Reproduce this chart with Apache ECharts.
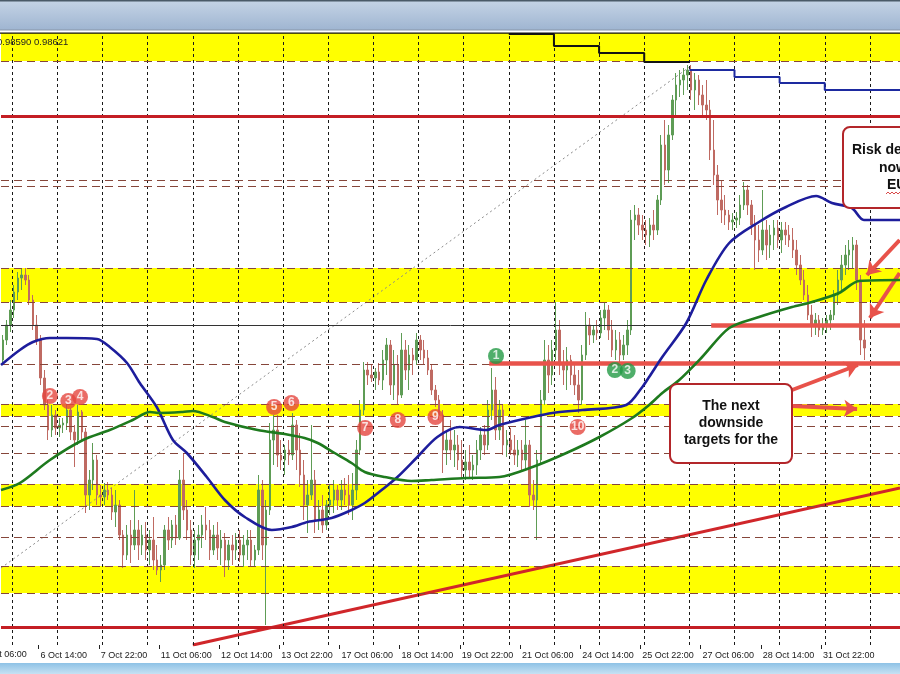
<!DOCTYPE html>
<html><head><meta charset="utf-8">
<script src="https://cdn.jsdelivr.net/npm/echarts/dist/echarts.min.js"></script>
<style>html,body{margin:0;padding:0;background:#fff;}#c{width:900px;height:674px;}</style>
</head><body><div id="c"></div>
<script>
// ---- 2-hour OHLC bars (EURUSD) ----
const barOpen=[
0.9850,0.9870,0.9885,0.9900,0.9918,0.9932,0.9935,0.9930,0.9910,0.9885,
0.9870,0.9832,0.9805,0.9780,0.9795,0.9782,0.9785,0.9787,0.9800,0.9778,
0.9770,0.9798,0.9778,0.9715,0.9730,0.9750,0.9715,0.9713,0.9720,0.9715,
0.9698,0.9705,0.9675,0.9655,0.9675,0.9665,0.9680,0.9665,0.9675,0.9660,
0.9670,0.9650,0.9640,0.9645,0.9680,0.9670,0.9685,0.9672,0.9730,0.9700,
0.9680,0.9655,0.9670,0.9675,0.9685,0.9680,0.9660,0.9675,0.9662,0.9670,
0.9650,0.9665,0.9660,0.9670,0.9655,0.9665,0.9670,0.9650,0.9660,0.9720,
0.9665,0.9700,0.9770,0.9780,0.9755,0.9750,0.9760,0.9755,0.9785,0.9760,
0.9735,0.9705,0.9715,0.9730,0.9690,0.9700,0.9685,0.9705,0.9710,0.9720,
0.9710,0.9720,0.9715,0.9705,0.9720,0.9760,0.9800,0.9840,0.9835,0.9832,
0.9838,0.9830,0.9850,0.9865,0.9825,0.9845,0.9815,0.9860,0.9840,0.9855,
0.9850,0.9870,0.9860,0.9852,0.9840,0.9820,0.9810,0.9795,0.9760,0.9770,
0.9760,0.9765,0.9750,0.9740,0.9748,0.9740,0.9745,0.9760,0.9775,0.9765,
0.9800,0.9820,0.9780,0.9800,0.9765,0.9770,0.9760,0.9755,0.9760,0.9750,
0.9765,0.9715,0.9710,0.9750,0.9810,0.9850,0.9835,0.9860,0.9880,0.9845,
0.9840,0.9850,0.9835,0.9825,0.9810,0.9855,0.9885,0.9875,0.9880,0.9877,
0.9892,0.9900,0.9880,0.9860,0.9870,0.9855,0.9865,0.9880,0.9990,0.9995,
0.9985,0.9980,0.9975,0.9985,0.9980,1.0010,1.0065,1.0040,1.0075,1.0110,
1.0125,1.0130,1.0135,1.0140,1.0120,1.0130,1.0115,1.0105,1.0100,1.0060,
1.0035,1.0010,1.0000,0.9995,0.9988,0.9990,0.9992,1.0005,1.0020,1.0005,
0.9985,0.9970,0.9960,0.9980,0.9965,0.9975,0.9982,0.9970,0.9980,0.9975,
0.9970,0.9960,0.9945,0.9930,0.9915,0.9895,0.9885,0.9890,0.9880,0.9885,
0.9890,0.9895,0.9915,0.9930,0.9945,0.9955,0.9960,0.9965,0.9930,0.9870];
const barHigh=[
0.9875,0.9890,0.9910,0.9925,0.9938,0.9942,0.9942,0.9935,0.9915,0.9895,
0.9875,0.9840,0.9810,0.9805,0.9800,0.9792,0.9792,0.9805,0.9802,0.9785,
0.9805,0.9800,0.9782,0.9740,0.9767,0.9755,0.9725,0.9727,0.9728,0.9722,
0.9720,0.9710,0.9680,0.9685,0.9690,0.9720,0.9690,0.9685,0.9688,0.9680,
0.9693,0.9665,0.9655,0.9685,0.9693,0.9690,0.9695,0.9740,0.9757,0.9710,
0.9690,0.9680,0.9685,0.9695,0.9703,0.9690,0.9685,0.9688,0.9680,0.9677,
0.9670,0.9675,0.9677,0.9680,0.9675,0.9680,0.9680,0.9665,0.9735,0.9730,
0.9710,0.9787,0.9795,0.9795,0.9770,0.9765,0.9770,0.9797,0.9790,0.9777,
0.9750,0.9730,0.9785,0.9740,0.9710,0.9715,0.9710,0.9725,0.9730,0.9725,
0.9730,0.9732,0.9735,0.9737,0.9770,0.9810,0.9848,0.9848,0.9845,0.9842,
0.9847,0.9860,0.9872,0.9870,0.9860,0.9855,0.9877,0.9870,0.9865,0.9862,
0.9877,0.9875,0.9870,0.9860,0.9845,0.9825,0.9815,0.9800,0.9780,0.9790,
0.9780,0.9775,0.9770,0.9760,0.9765,0.9755,0.9770,0.9783,0.9785,0.9810,
0.9842,0.9833,0.9810,0.9805,0.9780,0.9782,0.9775,0.9770,0.9770,0.9790,
0.9770,0.9730,0.9760,0.9820,0.9870,0.9865,0.9870,0.9908,0.9890,0.9860,
0.9863,0.9855,0.9845,0.9840,0.9865,0.9898,0.9892,0.9885,0.9890,0.9900,
0.9907,0.9905,0.9890,0.9880,0.9878,0.9875,0.9890,1.0000,1.0005,1.0002,
0.9995,0.9990,0.9992,1.0000,1.0015,1.0075,1.0090,1.0085,1.0115,1.0137,
1.0140,1.0142,1.0145,1.0145,1.0137,1.0135,1.0125,1.0130,1.0110,1.0090,
1.0045,1.0030,1.0015,1.0000,0.9997,0.9998,1.0015,1.0028,1.0025,1.0010,
0.9995,0.9985,1.0020,0.9990,0.9985,0.9990,0.9990,0.9988,0.9988,0.9985,
0.9982,0.9970,0.9955,0.9940,0.9925,0.9905,0.9897,0.9895,0.9892,0.9895,
0.9900,0.9920,0.9940,0.9955,0.9965,0.9970,0.9973,0.9970,0.9935,0.9890];
const barLow=[
0.9845,0.9865,0.9878,0.9892,0.9910,0.9920,0.9925,0.9905,0.9880,0.9865,
0.9825,0.9800,0.9770,0.9773,0.9775,0.9773,0.9777,0.9780,0.9770,0.9743,
0.9765,0.9770,0.9697,0.9700,0.9720,0.9705,0.9703,0.9705,0.9710,0.9690,
0.9683,0.9670,0.9642,0.9650,0.9647,0.9660,0.9650,0.9655,0.9650,0.9645,
0.9640,0.9635,0.9628,0.9640,0.9660,0.9662,0.9665,0.9670,0.9690,0.9670,
0.9645,0.9642,0.9650,0.9662,0.9670,0.9650,0.9655,0.9650,0.9645,0.9633,
0.9640,0.9645,0.9650,0.9648,0.9643,0.9650,0.9643,0.9643,0.9655,0.9650,
0.9585,0.9695,0.9745,0.9743,0.9740,0.9735,0.9745,0.9750,0.9740,0.9723,
0.9690,0.9677,0.9710,0.9677,0.9680,0.9677,0.9680,0.9695,0.9697,0.9700,
0.9700,0.9705,0.9695,0.9690,0.9710,0.9755,0.9795,0.9825,0.9828,0.9820,
0.9825,0.9820,0.9835,0.9815,0.9810,0.9805,0.9812,0.9830,0.9820,0.9835,
0.9845,0.9850,0.9845,0.9835,0.9815,0.9803,0.9790,0.9737,0.9745,0.9750,
0.9743,0.9740,0.9732,0.9730,0.9732,0.9730,0.9735,0.9750,0.9755,0.9760,
0.9790,0.9770,0.9770,0.9755,0.9753,0.9755,0.9745,0.9743,0.9740,0.9740,
0.9703,0.9700,0.9670,0.9745,0.9805,0.9817,0.9825,0.9850,0.9835,0.9825,
0.9820,0.9825,0.9815,0.9797,0.9805,0.9850,0.9865,0.9867,0.9870,0.9872,
0.9880,0.9870,0.9853,0.9850,0.9848,0.9850,0.9855,0.9875,0.9970,0.9975,
0.9970,0.9965,0.9963,0.9970,0.9975,1.0005,1.0025,1.0027,1.0070,1.0093,
1.0113,1.0115,1.0120,1.0110,1.0100,1.0105,1.0095,1.0090,1.0050,1.0025,
0.9995,0.9987,0.9985,0.9980,0.9980,0.9982,0.9985,1.0000,0.9995,0.9975,
0.9940,0.9948,0.9955,0.9950,0.9952,0.9960,0.9962,0.9957,0.9965,0.9963,
0.9952,0.9935,0.9925,0.9910,0.9890,0.9873,0.9875,0.9873,0.9875,0.9877,
0.9880,0.9890,0.9905,0.9920,0.9935,0.9940,0.9942,0.9920,0.9855,0.9850];
const barClose=[
0.9870,0.9885,0.9900,0.9918,0.9932,0.9935,0.9930,0.9910,0.9885,0.9870,
0.9832,0.9805,0.9780,0.9795,0.9782,0.9785,0.9787,0.9800,0.9778,0.9770,
0.9798,0.9778,0.9715,0.9730,0.9750,0.9715,0.9713,0.9720,0.9715,0.9698,
0.9705,0.9675,0.9655,0.9675,0.9665,0.9680,0.9665,0.9675,0.9660,0.9670,
0.9650,0.9640,0.9645,0.9680,0.9670,0.9685,0.9672,0.9730,0.9700,0.9680,
0.9655,0.9670,0.9675,0.9685,0.9680,0.9660,0.9675,0.9662,0.9670,0.9650,
0.9665,0.9660,0.9670,0.9655,0.9665,0.9670,0.9650,0.9660,0.9720,0.9665,
0.9700,0.9770,0.9780,0.9755,0.9750,0.9760,0.9755,0.9785,0.9760,0.9735,
0.9705,0.9715,0.9730,0.9690,0.9700,0.9685,0.9705,0.9710,0.9720,0.9710,
0.9720,0.9715,0.9705,0.9720,0.9760,0.9800,0.9840,0.9835,0.9832,0.9838,
0.9830,0.9850,0.9865,0.9825,0.9845,0.9815,0.9860,0.9840,0.9855,0.9850,
0.9870,0.9860,0.9852,0.9840,0.9820,0.9810,0.9795,0.9760,0.9770,0.9760,
0.9765,0.9750,0.9740,0.9748,0.9740,0.9745,0.9760,0.9775,0.9765,0.9800,
0.9820,0.9780,0.9800,0.9765,0.9770,0.9760,0.9755,0.9760,0.9750,0.9765,
0.9715,0.9710,0.9750,0.9810,0.9850,0.9835,0.9860,0.9880,0.9845,0.9840,
0.9850,0.9835,0.9825,0.9810,0.9855,0.9885,0.9875,0.9880,0.9877,0.9892,
0.9900,0.9880,0.9860,0.9870,0.9855,0.9865,0.9880,0.9990,0.9995,0.9985,
0.9980,0.9975,0.9985,0.9980,1.0010,1.0065,1.0040,1.0075,1.0110,1.0125,
1.0130,1.0135,1.0140,1.0120,1.0130,1.0115,1.0105,1.0100,1.0060,1.0035,
1.0010,1.0000,0.9995,0.9988,0.9990,0.9992,1.0005,1.0020,1.0005,0.9985,
0.9970,0.9960,0.9980,0.9965,0.9975,0.9982,0.9970,0.9980,0.9975,0.9970,
0.9960,0.9945,0.9930,0.9915,0.9895,0.9885,0.9890,0.9880,0.9885,0.9890,
0.9895,0.9915,0.9930,0.9945,0.9955,0.9960,0.9965,0.9930,0.9870,0.9862];

const barCount = 239;                 // 2-hour slots across the visible window
const tickBars = [10,26,42,58,74,90,106,122,138,154,170,186,202,218];
const tickLabels = ["6 Oct 14:00","7 Oct 22:00","11 Oct 06:00","12 Oct 14:00","13 Oct 22:00","17 Oct 06:00","18 Oct 14:00","19 Oct 22:00","21 Oct 06:00","24 Oct 14:00","25 Oct 22:00","27 Oct 06:00","28 Oct 14:00","31 Oct 22:00"];
const hiddenLeftLabel = "5 Oct 06:00";
const dayStartBars = [3,15,27,39,51,63,75,87,99,111,123,135,147,159,171,183,195,207,219,231];

// moving averages [bar, price]
const maBlue = [[0,0.9845],[5,0.9860],[8.5,0.9868],[13,0.9872],[17.5,0.9872],[25.5,0.9871],[28.9,0.9863],[33.5,0.9847],[36.9,0.9827],[41.4,0.9803],[45.7,0.9770],[49.4,0.9757],[54.7,0.9733],[59.5,0.9710],[64.8,0.9693],[72,0.9680],[77.3,0.9683],[81.5,0.9688],[87.9,0.9692],[93.2,0.9700],[96.7,0.9707],[101.2,0.9720],[105.4,0.9733],[110.7,0.9753],[116,0.9773],[121.9,0.9783],[129,0.9780],[132.5,0.9785],[141.3,0.9793],[146.6,0.9797],[154.5,0.9800],[166.2,0.9805],[170.5,0.9823],[172.3,0.9833],[175.8,0.9853],[182.2,0.9887],[187.5,0.9930],[193.6,0.9967],[201.5,0.9988],[208.7,1.0003],[216.7,1.0014],[220.9,1.0007],[226.2,1.0002],[229.4,0.9990],[239,0.9990]];
const maGreen = [[0,0.9720],[5,0.9727],[13,0.9750],[21.8,0.9770],[28.9,0.9780],[35,0.9790],[39.6,0.9798],[42.2,0.9797],[48.3,0.9798],[51,0.9799],[56.3,0.9793],[59.5,0.9788],[68.2,0.9780],[75.4,0.9776],[80.7,0.9772],[84.2,0.9767],[88.7,0.9757],[93.2,0.9747],[96.7,0.9738],[102,0.9733],[109.1,0.9729],[114.4,0.9730],[123.7,0.9732],[132.5,0.9733],[141.3,0.9743],[150.3,0.9757],[159.1,0.9773],[167.8,0.9792],[172.3,0.9805],[175.8,0.9817],[180.3,0.9830],[186.4,0.9853],[193.6,0.9882],[201.5,0.9893],[210.3,0.9903],[215.6,0.9908],[222.8,0.9917],[228.1,0.9929],[239,0.9930]];

// levels and zones (prices)
const yellowZones = [[1.0149,1.0177],[0.9908,0.9942],[0.9794,0.9806],[0.9704,0.9726],[0.9617,0.9644]];
const dashedLevels = [1.0149,1.0030,1.0024,0.9942,0.9908,0.9846,0.9806,0.9794,0.9784,0.9757,0.9726,0.9704,0.9673,0.9644,0.9617];
const redLevels = [1.0094,0.9583];
const thinLevel = 0.9885;
const redSegments = [[129.8,0.9847],[188.8,0.9885]];
const trendLine = [[51.0,0.9565],[239,0.9722]];
const fibLine = [[0,0.9642],[183,1.0143]];
const stepsBlack = [[135,1.0176],[147,1.0164],[159,1.0157],[171,1.0148],[183,1.0148]];
const stepsBlue = [[183,1.0140],[195,1.0133],[207,1.0127],[219,1.0120],[239,1.0120]];
const redMarkers = [[13.0,0.9814,'2'],[17.9,0.9809,'3'],[21.0,0.9813,'4'],[72.6,0.9803,'5'],[77.2,0.9807,'6'],[96.8,0.9782,'7'],[105.5,0.9790,'8'],[115.5,0.9793,'9'],[153.3,0.9783,'10']];
const greenMarkers = [[131.6,0.9854,'1'],[163.2,0.9840,'2'],[166.6,0.9839,'3']];
const arrows = [[[210.3,0.9820],[227.8,0.9845]],[[210.3,0.9804],[227.6,0.9801]],[[238.9,0.9970],[230.2,0.9935]],[[238.9,0.9937],[231.0,0.9892]]];
const priceText = "0.98590 0.98621";
const boxRight = ["Risk de","now","EU"];
const boxLower = ["The next","downside","targets for the"];

const chart = echarts.init(document.getElementById('c'), null, {renderer:'canvas', devicePixelRatio:1});
const cats = Array.from({length:barCount},(_,i)=>String(i));
const FONT = "'Liberation Sans', Arial, sans-serif";
const host = [[0,0.98],[barCount,0.98]];
const hidden = {type:'line', xAxisIndex:1, data:host, symbol:'none', lineStyle:{opacity:0}, silent:true};

const option = {
  animation:false,
  grid:{left:1, top:33, width:900, height:612, containLabel:false},
  xAxis:[
    {type:'category', data:cats, boundaryGap:true,
     axisLine:{show:false},
     axisTick:{show:true, interval:(i)=>tickBars.indexOf(i)>=0, length:4, lineStyle:{color:'#222'}},
     axisLabel:{show:true, interval:(i)=>tickBars.indexOf(i)>=0, formatter:(v)=>{const k=tickBars.indexOf(Number(v));return k>=0?tickLabels[k]:'';}, align:'left', fontSize:9, fontFamily:FONT, color:'#1a1a1a', margin:6},
     splitLine:{show:false}},
    {type:'value', min:0, max:barCount, show:false}
  ],
  yAxis:{type:'value', min:0.9565, max:1.0177, show:false},
  series:[
    Object.assign({}, hidden, {z:1, markArea:{silent:true, itemStyle:{color:'#ffff00'},
      data: yellowZones.map(([a,b])=>[{yAxis:a},{yAxis:b}])}}),
    Object.assign({}, hidden, {z:2, markLine:{silent:true, precision:5, symbol:['none','none'], label:{show:false},
      data: dayStartBars.map(b=>({xAxis:b, lineStyle:{color:'#1a1a1a', width:1, type:[3,3]}}))
        .concat(dashedLevels.map(p=>({yAxis:p, lineStyle:{color:'#86463a', width:1.2, type:[8,5]}})))
        .concat([{yAxis:thinLevel, lineStyle:{color:'#333', width:1, type:'solid'}}])}}),
    {type:'candlestick', xAxisIndex:0, data: barOpen.map((o,i)=>[o,barClose[i],barLow[i],barHigh[i]]),
     barWidth:2, z:3,
     itemStyle:{color:'#5e9c55', color0:'#bf6a62', borderColor:'#5e9c55', borderColor0:'#bf6a62', borderWidth:1}},
    Object.assign({}, hidden, {z:4, markLine:{silent:true, precision:5, symbol:['none','none'], label:{show:false},
      data: redLevels.map(p=>({yAxis:p, lineStyle:{color:'#c41e24', width:3, type:'solid'}}))
        .concat(redSegments.map(([b,p])=>[{coord:[b,p], lineStyle:{color:'#e8534b', width:4.5, type:'solid'}},{coord:[barCount,p]}]))}}),
    {type:'line', xAxisIndex:1, data:trendLine, symbol:'none', z:4, lineStyle:{color:'#d0262a', width:3}},
    {type:'line', xAxisIndex:1, data:fibLine, symbol:'none', z:4, lineStyle:{color:'#8a8a8a', width:1, type:[2,3]}},
    {type:'line', xAxisIndex:1, data:maBlue, symbol:'none', smooth:0.3, z:5, lineStyle:{color:'#1d1d9c', width:2.6}},
    {type:'line', xAxisIndex:1, data:maGreen, symbol:'none', smooth:0.3, z:5, lineStyle:{color:'#1e7a1e', width:2.6}},
    {type:'line', xAxisIndex:1, data:stepsBlack, step:'end', symbol:'none', z:5, lineStyle:{color:'#141414', width:2}},
    {type:'line', xAxisIndex:1, data:stepsBlue, step:'end', symbol:'none', z:5, lineStyle:{color:'#1d2aa0', width:2}},
    {type:'scatter', xAxisIndex:1, z:6, symbol:'circle', symbolSize:16,
     data: redMarkers.map(([b,p,t])=>({value:[b,p], name:t})),
     itemStyle:{color:'#e5463f'},
     label:{show:true, position:'inside', formatter:'{b}', color:'#fff', fontSize:12, fontWeight:'bold', fontFamily:FONT}},
    {type:'scatter', xAxisIndex:1, z:6, symbol:'circle', symbolSize:16,
     data: greenMarkers.map(([b,p,t])=>({value:[b,p], name:t})),
     itemStyle:{color:'#239a45'},
     label:{show:true, position:'inside', formatter:'{b}', color:'#fff', fontSize:12, fontWeight:'bold', fontFamily:FONT}},
    Object.assign({}, hidden, {z:8, markLine:{silent:true, precision:5, symbol:['none','arrow'], symbolSize:13, label:{show:false},
      lineStyle:{color:'#e8524a', width:4, type:'solid'},
      data: arrows.map(([a,b])=>[{coord:a},{coord:b}])}})
  ],
  graphic:[
    {type:'rect', z:100, shape:{x:0,y:0,width:900,height:30}, style:{fill:new echarts.graphic.LinearGradient(0,0,0,1,[{offset:0,color:'#c5d4e6'},{offset:1,color:'#9fb5d1'}])}},
    {type:'rect', z:101, shape:{x:0,y:0,width:900,height:1.5}, style:{fill:'#4a5a68'}},
    {type:'rect', z:101, shape:{x:0,y:29.5,width:900,height:1}, style:{fill:'#8796a7'}},
    {type:'rect', z:101, shape:{x:0,y:32.4,width:900,height:1.4}, style:{fill:'#111'}},
    {type:'rect', z:100, shape:{x:0,y:663,width:900,height:11}, style:{fill:new echarts.graphic.LinearGradient(0,0,0,1,[{offset:0,color:'#8ec2e6'},{offset:1,color:'#c6e1f3'}])}},
    {type:'text', z:101, style:{text:priceText, x:-3, y:42, font:'9.5px '+FONT, fill:'#222', verticalAlign:'middle', textVerticalAlign:'middle'}},
    {type:'text', z:101, style:{text:hiddenLeftLabel, x:-19.7, y:655, font:'9px '+FONT, fill:'#1a1a1a', verticalAlign:'middle', textVerticalAlign:'middle'}},
    {type:'rect', z:110, shape:{x:843,y:127,width:90,height:81,r:7}, style:{fill:'#fff', stroke:'#b3262a', lineWidth:2}},
    {type:'text', z:111, style:{text:boxRight[0], x:852, y:150, font:'bold 14px '+FONT, fill:'#111', verticalAlign:'middle', textVerticalAlign:'middle'}},
    {type:'text', z:111, style:{text:boxRight[1], x:879, y:168, font:'bold 14px '+FONT, fill:'#111', verticalAlign:'middle', textVerticalAlign:'middle'}},
    {type:'text', z:111, style:{text:boxRight[2], x:887, y:185, font:'bold 14px '+FONT, fill:'#111', verticalAlign:'middle', textVerticalAlign:'middle'}},
    {type:'polyline', z:111, shape:{points:[[886,194],[888,192],[890,194],[892,192],[894,194],[896,192],[898,194],[900,192]]}, style:{stroke:'#d94a4a', lineWidth:1, fill:null}},
    {type:'rect', z:110, shape:{x:670,y:384,width:122,height:79,r:7}, style:{fill:'#fff', stroke:'#b3262a', lineWidth:2}},
    {type:'text', z:111, style:{text:boxLower[0], x:731, y:406, font:'bold 14px '+FONT, fill:'#111', align:'center', textAlign:'center', verticalAlign:'middle', textVerticalAlign:'middle'}},
    {type:'text', z:111, style:{text:boxLower[1], x:731, y:423, font:'bold 14px '+FONT, fill:'#111', align:'center', textAlign:'center', verticalAlign:'middle', textVerticalAlign:'middle'}},
    {type:'text', z:111, style:{text:boxLower[2], x:731, y:440, font:'bold 14px '+FONT, fill:'#111', align:'center', textAlign:'center', verticalAlign:'middle', textVerticalAlign:'middle'}}
  ]
};
chart.setOption(option);
</script>
</body></html>
